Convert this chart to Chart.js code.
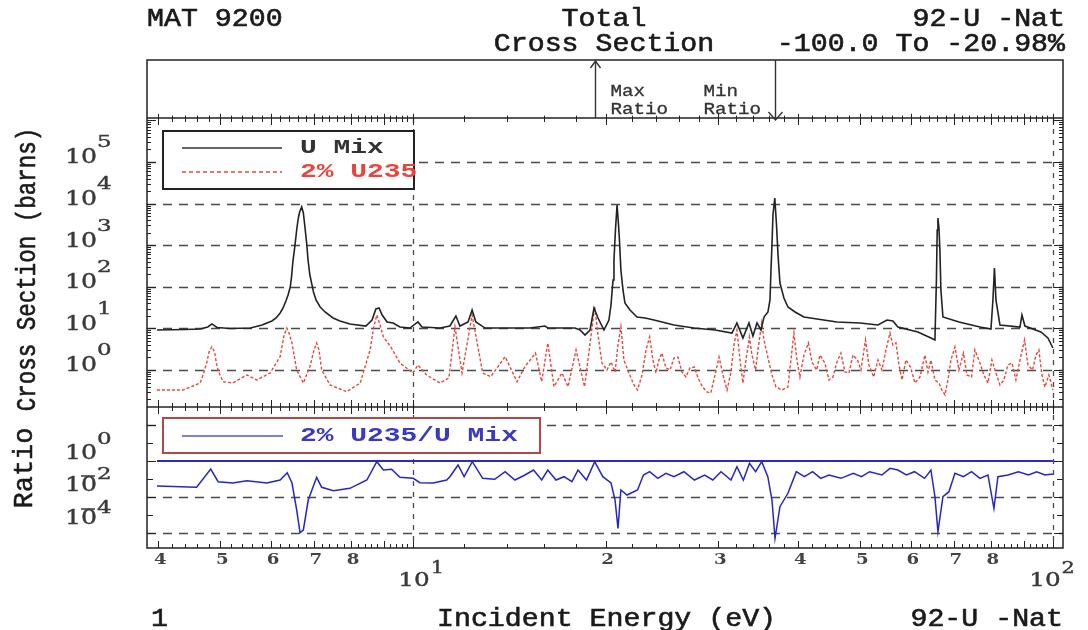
<!DOCTYPE html>
<html>
<head>
<meta charset="utf-8">
<script src="https://cdn.jsdelivr.net/npm/chart.js"></script>
<style>
html,body{margin:0;padding:0;background:#fff;}
#wrap{width:1088px;height:630px;position:relative;background:#fff;}
canvas{display:block;}
</style>
</head>
<body>
<div id="wrap"><canvas id="c" width="1088" height="630"></canvas></div>
<script>
// ---------------- data ----------------
// Incident energy (eV) and total cross section (barns) of the U mix
const uMixE = [3.98,4.40,4.65,4.78,4.85,4.94,5.18,5.57,5.81,6.02,
  6.11,6.20,6.265,6.33,6.379,6.43,6.459,6.49,6.541,6.58,
  6.612,6.65,6.70,6.74,6.781,6.82,6.855,6.90,6.954,6.99,
  7.055,7.16,7.288,7.50,7.69,7.97,8.44,8.63,8.75,8.85,
  8.95,9.11,9.31,9.54,9.89,10.18,10.33,11.02,11.42,11.67,
  11.84,12.19,12.37,12.54,12.96,15.23,16.08,16.25,17.91,18.24,
  18.57,18.91,19.18,19.46,19.88,20.24,20.39,20.54,20.61,20.72,
  20.84,20.95,21.02,21.13,21.29,21.44,21.83,22.39,23.05,23.80,
  25.57,27.48,29.65,31.51,32.08,32.78,33.50,33.98,34.48,34.98,
  35.36,35.87,36.13,36.26,36.39,36.52,36.76,36.99,37.19,37.45,
  37.99,38.54,39.54,40.82,45.97,49.94,53.29,55.04,56.23,57.25,
  61.52,64.47,65.41,65.76,65.95,66.12,66.36,66.59,66.83,67.32,
  71.31,76.91,80.02,80.59,81.03,81.47,82.65,88.82,89.46,90.43,
  95.77,98.22,100.0];
const uMixXS = [9.15,9.41,9.67,10.8,12.8,10.5,9.95,10.2,12.1,15.1,
  17.8,23.5,30.9,45.6,63.5,98.9,172,395,1011,2320,
  4035,6280,8285,5940,2591,1130,441,192,110,75,
  48.2,32.7,24.8,17.8,15.1,12.8,11.4,15.9,29.3,30.9,
  21.0,14.3,13.5,10.8,10.2,14.3,10.8,10.2,11.4,19.9,
  11.4,14.3,27.7,14.3,10.2,10.2,11.4,10.2,10.2,9.15,
  6.94,9.15,30.9,17.8,9.15,15.9,36.5,146,441,2320,
  9255,3060,1334,253,83.8,40.8,27.7,18.8,17.8,15.9,
  12.1,10.2,9.15,7.75,13.5,5.88,13.5,6.57,13.5,9.15,
  18.8,24.8,48.2,253,1011,5320,13630,3060,581,123,
  53.8,32.7,24.8,18.8,14.3,13.5,12.1,15.9,15.1,10.8,
  8.19,5.88,5.26,146,2320,4506,2591,767,83.8,18.8,
  14.3,10.8,9.67,48.2,283,48.2,12.1,10.8,21.0,11.4,
  8.19,5.88,3.38];

// 2% U235 contribution (barns)
const u235E = [3.98,4.37,4.65,4.715,4.76,4.801,4.85,4.897,4.94,4.986,
  5.05,5.23,5.50,5.70,5.98,6.20,6.285,6.35,6.402,6.47,
  6.58,6.74,6.90,7.005,7.07,7.131,7.20,7.42,7.88,8.27,
  8.57,8.676,8.78,8.881,8.99,9.26,9.54,10.0,10.18,10.50,
  11.02,11.38,11.63,11.93,12.37,12.85,13.23,13.93,14.54,14.96,
  15.54,15.89,16.24,16.61,17.09,17.47,17.98,18.54,19.23,19.46,
  19.74,20.10,20.39,20.69,20.91,21.13,21.36,21.75,22.15,22.43,
  22.80,23.13,23.43,23.71,23.97,24.23,24.49,24.85,25.22,25.57,
  25.94,26.32,26.70,27.09,27.53,27.89,28.35,28.80,29.20,29.65,
  30.08,30.51,30.96,31.40,31.74,32.08,32.44,32.78,33.14,33.56,
  33.86,34.31,34.60,35.07,35.36,35.85,36.39,36.92,37.72,38.54,
  38.96,39.38,39.81,40.24,40.82,41.50,42.02,42.73,43.25,44.03,
  44.67,45.32,45.97,46.64,47.32,48.00,48.71,49.50,50.12,50.95,
  51.58,52.48,53.29,54.06,54.84,55.64,56.23,56.86,57.47,58.10,
  58.94,59.90,60.87,61.98,63.10,63.79,64.47,65.41,66.36,67.08,
  67.81,68.55,69.29,70.29,71.31,72.47,73.39,74.62,75.53,76.91,
  78.01,79.16,80.30,81.47,82.65,83.84,85.06,86.30,87.54,88.82,
  90.30,91.41,92.96,94.06,95.08,96.12,97.16,98.57,100];
const u235XS = [0.330,0.330,0.487,0.895,1.47,2.71,3.63,2.71,1.20,0.801,
  0.523,0.487,0.758,0.575,0.847,2.09,6.57,10.2,7.75,4.46,
  1.00,0.487,1.20,3.03,4.46,3.03,1.00,0.436,0.301,0.487,
  3.03,10.2,21.0,12.1,6.32,3.32,1.47,0.847,1.32,0.758,
  0.487,0.642,11.0,0.847,21.0,0.847,0.690,2.09,0.523,1.20,
  2.56,0.523,4.46,0.397,0.847,0.397,3.03,0.397,33.2,6.94,
  1.47,1.00,1.56,0.895,3.98,11.0,1.74,0.847,0.436,0.330,
  0.758,3.03,6.21,1.74,0.847,1.74,2.56,1.12,1.00,1.94,
  2.05,0.895,0.679,1.12,1.18,0.642,0.390,0.296,0.280,0.758,
  2.05,0.758,0.330,0.895,3.98,9.15,1.74,0.487,1.74,6.21,
  2.29,1.00,3.03,13.5,5.26,2.05,0.758,0.390,0.330,0.390,
  1.74,7.75,1.74,0.679,2.29,4.46,1.56,1.00,2.29,1.47,
  0.575,0.679,1.56,2.56,0.895,0.847,2.29,1.74,1.00,5.26,
  1.32,0.679,1.74,1.00,3.03,7.75,3.98,4.46,1.32,0.575,
  1.74,1.18,0.487,0.679,2.29,0.895,1.74,0.575,0.487,0.330,
  0.251,0.575,1.74,3.57,1.00,2.56,0.758,0.679,3.03,1.47,
  0.758,0.487,1.74,0.847,0.436,0.575,1.32,1.47,0.575,1.74,
  5.26,1.32,1.00,2.29,3.03,0.758,0.390,0.758,0.330];

// Ratio 2% U235 / U Mix
const ratioE = [3.98,4.59,4.83,4.96,5.23,5.50,5.91,6.20,6.36,6.47,6.58,6.66,6.74,6.86,7.07,7.20,7.51,7.97,8.47,8.78,8.99,9.26,9.54,10.01,10.25,10.75,11.29,11.42,11.76,12.02,12.38,12.85,13.42,13.93,14.43,14.96,15.43,15.89,16.24,16.73,17.22,17.72,18.11,18.67,19.23,19.80,20.39,20.69,20.91,21.13,21.60,22.43,22.92,23.43,24.13,24.85,25.57,26.51,27.53,28.56,29.41,30.29,31.40,32.08,32.83,33.56,34.31,35.07,35.85,36.39,36.79,37.45,38.54,39.72,40.89,42.12,43.37,44.67,46.64,48.77,50.22,51.71,54.06,55.64,57.25,59.02,60.77,63.03,64.47,65.41,66.12,67.32,68.79,70.29,72.47,74.62,76.91,79.16,80.88,82.05,85.06,88.34,91.61,94.33,97.16,100];
const ratioVal = [0.0408,0.0346,0.359,0.0708,0.0599,0.0804,0.0599,0.0880,0.224,0.0599,0.00190,0.000104,0.000147,0.00681,0.124,0.0346,0.0224,0.0304,0.0880,0.914,0.316,0.346,0.124,0.109,0.0623,0.0599,0.0880,0.134,0.600,0.134,0.914,0.109,0.0962,0.254,0.0880,0.167,0.316,0.0880,0.316,0.0880,0.134,0.0708,0.316,0.0880,0.914,0.134,0.0599,0.00681,0.000182,0.0245,0.0129,0.0245,0.167,0.254,0.109,0.207,0.134,0.254,0.0880,0.167,0.0880,0.254,0.0880,0.483,0.0880,0.745,0.254,0.914,0.134,0.00681,0.0000508,0.00289,0.0161,0.254,0.134,0.254,0.109,0.167,0.109,0.207,0.134,0.254,0.167,0.393,0.316,0.167,0.254,0.109,0.316,0.0104,0.000118,0.0104,0.0197,0.207,0.134,0.254,0.109,0.167,0.00236,0.134,0.167,0.254,0.167,0.254,0.167,0.190];

// reference line at ratio = 1
const unityE = [3.98, 100];
const unityVal = [1, 1];

// energies of max / min ratio markers
const maxRatioE = 19.25;
const minRatioE = 36.8;

// tick labels
const xDigitTicks = [4, 5, 6, 7, 8, 20, 30, 40, 50, 60, 70, 80];
const xDecadeTicks = [10, 100];
const mainDecadeExps = [0, 1, 2, 3, 4, 5];
const ratioDecadeExps = [0, -2, -4];

// ---------------- helpers ----------------
const MONO = "'Liberation Mono', 'DejaVu Sans Mono', monospace";
const SERIF = "'DejaVu Serif', 'Liberation Serif', serif";

function drawText(ctx, s, x, y, o) {
  o = o || {};
  const size = o.size || 25, sx = o.sx || 1.13;
  ctx.save();
  ctx.font = (o.weight || 'normal') + ' ' + size + 'px ' + (o.family || MONO);
  ctx.fillStyle = o.color || '#1a1a1a';
  ctx.textBaseline = 'middle';
  ctx.textAlign = 'left';
  const w = ctx.measureText(s).width * sx;
  const x0 = o.align === 'right' ? x - w : (o.align === 'center' ? x - w / 2 : x);
  ctx.translate(x0, y);
  ctx.scale(sx, 1);
  ctx.fillText(s, 0, 0);
  if (o.stroke) {
    ctx.strokeStyle = o.color || '#1a1a1a';
    ctx.lineWidth = o.stroke;
    ctx.strokeText(s, 0, 0);
  }
  ctx.restore();
  return w;
}
function drawVText(ctx, s, cx, cy, o) {
  ctx.save();
  ctx.translate(cx, cy);
  ctx.scale(o.sx || 1, 1);
  ctx.rotate(-Math.PI / 2);
  ctx.font = (o.weight || 'normal') + ' ' + o.size + 'px ' + (o.family || MONO);
  ctx.fillStyle = o.color || '#1a1a1a';
  ctx.textAlign = 'center';
  ctx.textBaseline = 'middle';
  ctx.fillText(s, 0, 0);
  if (o.stroke) {
    ctx.strokeStyle = o.color || '#1a1a1a';
    ctx.lineWidth = o.stroke;
    ctx.strokeText(s, 0, 0);
  }
  ctx.restore();
}
function seg(ctx, x1, y1, x2, y2) {
  ctx.beginPath(); ctx.moveTo(x1, y1); ctx.lineTo(x2, y2); ctx.stroke();
}
const toXY = (xs, ys) => xs.map((x, i) => ({x: x, y: ys[i]}));

// ---------------- decoration plugin ----------------
const decor = {
  id: 'decor',
  beforeDatasetsDraw(chart) {
    const ctx = chart.ctx, ca = chart.chartArea;
    const x = chart.scales.x, yM = chart.scales.yMain, yR = chart.scales.yRatio;
    ctx.save();
    ctx.strokeStyle = '#4a4a4a';
    ctx.lineWidth = 1.6;
    ctx.setLineDash([9, 7]);
    mainDecadeExps.forEach(e => {
      const y = Math.round(yM.getPixelForValue(Math.pow(10, e))) + 0.5;
      seg(ctx, ca.left, y, ca.right, y);
    });
    [2, -2, -4].forEach(e => {
      const y = Math.round(yR.getPixelForValue(Math.pow(10, e))) + 0.5;
      seg(ctx, ca.left, y, ca.right, y);
    });
    ctx.lineWidth = 1.3;
    ctx.setLineDash([5, 6]);
    xDecadeTicks.forEach(v => {
      const px = Math.round(x.getPixelForValue(v)) + 0.5;
      seg(ctx, px, yM.top, px, yR.bottom);
    });
    ctx.restore();
  },
  afterDatasetsDraw(chart) {
    const ctx = chart.ctx, ca = chart.chartArea;
    const x = chart.scales.x, yM = chart.scales.yMain, yR = chart.scales.yRatio, yT = chart.scales.yTop;
    ctx.save();
    // ---- frame ----
    ctx.strokeStyle = '#222';
    ctx.lineWidth = 1.5;
    ctx.strokeRect(ca.left, ca.top, ca.right - ca.left, ca.bottom - ca.top);
    seg(ctx, ca.left, yM.top, ca.right, yM.top);
    seg(ctx, ca.left, yR.top, ca.right, yR.top);

    // ---- x ticks on panel borders ----
    ctx.lineWidth = 1;
    const xt = [];
    for (let i = 20; i < 50; i++) xt.push({v: i / 5, major: i % 5 === 0});
    for (let i = 5; i <= 50; i++) xt.push({v: i * 2, major: i % 5 === 0});
    xt.forEach(t => {
      const px = Math.round(x.getPixelForValue(t.v)) + 0.5;
      if (px <= ca.left + 1 || px >= ca.right - 1) return;
      const L = t.major ? 7 : 4;
      seg(ctx, px, yM.top - L * 0.6, px, yM.top + L);
      seg(ctx, px, yR.top - L, px, yR.top + L);
      seg(ctx, px, yR.bottom - L, px, yR.bottom);
    });
    // ---- y ticks ----
    for (let e = -1; e <= 6; e++) {
      for (let m = 1; m <= 9; m++) {
        const v = m * Math.pow(10, e);
        if (v <= yM.min || v >= yM.max) continue;
        const py = Math.round(yM.getPixelForValue(v)) + 0.5;
        const L = m === 1 ? 9 : 4;
        seg(ctx, ca.left, py, ca.left + L, py);
        seg(ctx, ca.right - L, py, ca.right, py);
      }
    }
    for (let e = -4; e <= 2; e++) {
      const py = Math.round(yR.getPixelForValue(Math.pow(10, e))) + 0.5;
      const L = e % 2 === 0 ? 9 : 6;
      seg(ctx, ca.left, py, ca.left + L, py);
      seg(ctx, ca.right - L, py, ca.right, py);
    }

    // ---- max / min ratio arrows ----
    ctx.strokeStyle = '#333';
    ctx.lineWidth = 1.4;
    const pxMax = Math.round(x.getPixelForValue(maxRatioE)) + 0.5;
    const pxMin = Math.round(x.getPixelForValue(minRatioE)) + 0.5;
    seg(ctx, pxMax, yT.bottom, pxMax, yT.top + 1);
    ctx.beginPath(); ctx.moveTo(pxMax - 5, yT.top + 8); ctx.lineTo(pxMax, yT.top + 1); ctx.lineTo(pxMax + 5, yT.top + 8); ctx.stroke();
    seg(ctx, pxMin, yT.top, pxMin, yT.bottom + 1);
    ctx.beginPath(); ctx.moveTo(pxMin - 7, yT.bottom - 6); ctx.lineTo(pxMin, yT.bottom + 2); ctx.lineTo(pxMin + 7, yT.bottom - 6); ctx.stroke();
    const small = {size: 16, sx: 1.2, color: '#333', stroke: 0.3};
    drawText(ctx, 'Max', pxMax + 15, yT.top + 32, small);
    drawText(ctx, 'Ratio', pxMax + 15, yT.top + 50, small);
    drawText(ctx, 'Min', pxMin - 72, yT.top + 32, small);
    drawText(ctx, 'Ratio', pxMin - 72, yT.top + 50, small);

    // ---- legends ----
    ctx.setLineDash([]);
    ctx.fillStyle = '#fff';
    ctx.strokeStyle = '#222';
    ctx.lineWidth = 2;
    const lgL = ca.left + 16, lgT = yM.top + 13;
    ctx.fillRect(lgL, lgT, 251, 58);
    ctx.strokeRect(lgL, lgT, 251, 58);
    ctx.strokeStyle = '#333'; ctx.lineWidth = 1.5;
    seg(ctx, lgL + 19, lgT + 17, lgL + 119, lgT + 17);
    ctx.strokeStyle = '#e8453c'; ctx.setLineDash([4, 3]);
    seg(ctx, lgL + 19, lgT + 41, lgL + 119, lgT + 41);
    ctx.setLineDash([]);
    drawText(ctx, 'U Mix', lgL + 137, lgT + 17, {size: 21, sx: 1.33, weight: 'bold', color: '#333'});
    drawText(ctx, '2% U235', lgL + 137, lgT + 41, {size: 21, sx: 1.33, weight: 'bold', color: '#e8453c'});

    const rgL = ca.left + 16, rgT = yR.top + 11;
    ctx.fillStyle = '#fff';
    ctx.fillRect(rgL, rgT, 377, 35);
    ctx.strokeStyle = '#b04848'; ctx.lineWidth = 2;
    ctx.strokeRect(rgL, rgT, 377, 35);
    ctx.strokeStyle = '#8080d0'; ctx.lineWidth = 2;
    seg(ctx, rgL + 19, rgT + 18, rgL + 120, rgT + 18);
    drawText(ctx, '2% U235/U Mix', rgL + 137, rgT + 18, {size: 21, sx: 1.33, weight: 'bold', color: '#3a3ac0'});

    // ---- y tick labels ----
    const lab = {size: 21, sx: 1.2, family: SERIF, color: '#3a3a3a', stroke: 0.4};
    const sup = {size: 17, sx: 1.35, family: SERIF, color: '#3a3a3a', stroke: 0.4};
    mainDecadeExps.forEach(e => {
      const py = yM.getPixelForValue(Math.pow(10, e));
      drawText(ctx, '10', 65, py - 4, lab);
      drawText(ctx, String(e), 97, py - 19, sup);
    });
    const rOff = {'0': [7, 21], '-2': [11, 22], '-4': [14, 24]};
    ratioDecadeExps.forEach(e => {
      const py = yR.getPixelForValue(Math.pow(10, e));
      const off = rOff[String(e)];
      drawText(ctx, '10', 65, py - off[0], lab);
      drawText(ctx, String(Math.abs(e)), 97, py - off[1], sup);
      if (e < 0) {
        ctx.strokeStyle = '#3a3a3a'; ctx.lineWidth = 1.5;
        seg(ctx, 81, py - off[0] - 10, 95, py - off[0] - 10);
      }
    });

    // ---- x tick labels ----
    xDigitTicks.forEach(v => {
      const px = x.getPixelForValue(v);
      const s = v < 10 ? String(v) : String(v / 10);
      drawText(ctx, s, px + 2, ca.bottom + 12, {size: 14, sx: 1.3, family: SERIF, weight: 'bold', align: 'center', color: '#444'});
    });
    xDecadeTicks.forEach((v, i) => {
      const px = x.getPixelForValue(v) + (i === 0 ? 1 : -8);
      const w = drawText(ctx, '10', px, ca.bottom + 33, {size: 19, sx: 1.3, family: SERIF, align: 'center', color: '#3a3a3a', stroke: 0.4});
      drawText(ctx, String(i + 1), px + w / 2 + 1, ca.bottom + 21, {size: 16, sx: 1.3, family: SERIF, color: '#3a3a3a', stroke: 0.4});
    });

    // ---- titles ----
    const T = {stroke: 0.6};
    drawText(ctx, 'MAT 9200', 147, 19, T);
    drawText(ctx, 'Total', 604, 19, {align: 'center', stroke: 0.6});
    drawText(ctx, 'Cross Section', 604, 44, {align: 'center', stroke: 0.6});
    drawText(ctx, '92-U -Nat', 1065, 19, {align: 'right', stroke: 0.6});
    drawText(ctx, '-100.0 To -20.98%', 1065, 44, {align: 'right', stroke: 0.6});
    drawText(ctx, '1', 151, 619, T);
    drawText(ctx, 'Incident Energy (eV)', 437, 619, T);
    drawText(ctx, '92-U -Nat', 1063, 619, {align: 'right', stroke: 0.6});
    drawVText(ctx, 'Cross Section (barns)', 28, (yM.top + yM.bottom) / 2 + 7, {size: 22.5, sx: 1.2, stroke: 0.5});
    drawVText(ctx, 'Ratio', 25, 468, {size: 27, sx: 1.0, stroke: 0.5});
    ctx.restore();
  }
};

// ---------------- chart ----------------
const noAxis = {ticks: {display: false}, grid: {display: false, drawTicks: false}, border: {display: false}};
new Chart(document.getElementById('c'), {
  type: 'line',
  data: {
    datasets: [
      {label: 'U Mix', data: toXY(uMixE, uMixXS), yAxisID: 'yMain', borderColor: '#222', borderWidth: 1.6, pointRadius: 0, tension: 0},
      {label: '2% U235', data: toXY(u235E, u235XS), yAxisID: 'yMain', borderColor: '#e8453c', borderDash: [3, 2], borderWidth: 1.4, pointRadius: 0, tension: 0},
      {label: '2% U235/U Mix', data: toXY(ratioE, ratioVal), yAxisID: 'yRatio', borderColor: '#2626c4', borderWidth: 1.5, pointRadius: 0, tension: 0},
      {label: 'unity', data: toXY(unityE, unityVal), yAxisID: 'yRatio', borderColor: '#2a2ac8', borderWidth: 1.8, pointRadius: 0, tension: 0}
    ]
  },
  options: {
    responsive: false,
    animation: false,
    devicePixelRatio: 1,
    layout: {padding: {left: 147, right: 25, top: 60, bottom: 82}},
    plugins: {legend: {display: false}, tooltip: {enabled: false}},
    scales: {
      x: Object.assign({type: 'logarithmic', min: 3.84, max: 103.7, bounds: 'data', afterFit: s => { s.height = 0; }}, noAxis),
      yTop: Object.assign({type: 'linear', min: 0, max: 1, position: 'left', stack: 'panels', stackWeight: 58, weight: 3, afterFit: s => { s.width = 0; }}, noAxis),
      yMain: Object.assign({type: 'logarithmic', min: 0.129, max: 1.142e6, bounds: 'data', position: 'left', stack: 'panels', stackWeight: 289, weight: 2, afterFit: s => { s.width = 0; }}, noAxis),
      yRatio: Object.assign({type: 'logarithmic', min: 1.468e-5, max: 1000, bounds: 'data', position: 'left', stack: 'panels', stackWeight: 141, weight: 1, afterFit: s => { s.width = 0; }}, noAxis)
    }
  },
  plugins: [decor]
});
</script>
</body>
</html>
